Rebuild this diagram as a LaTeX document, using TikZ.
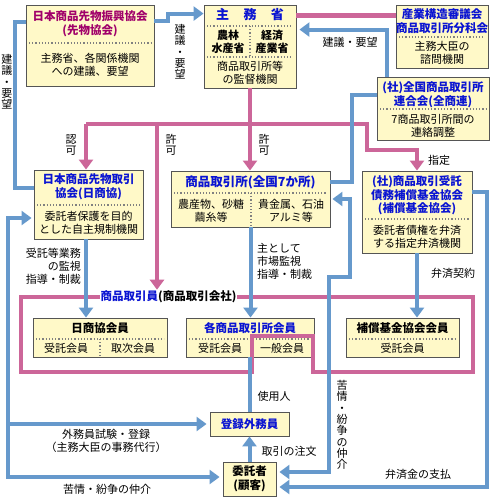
\documentclass[tikz,border=0pt]{standalone}
\usepackage{fontspec}
\setmainfont{Noto Sans CJK JP}
\usetikzlibrary{arrows.meta}
\definecolor{boxfill}{HTML}{FFF9C8}
\definecolor{boxline}{HTML}{555555}
\definecolor{sepgray}{HTML}{808080}
\definecolor{ttlblue}{HTML}{0A14D2}
\definecolor{shinkomag}{HTML}{A0006A}
\definecolor{magline}{HTML}{CC6699}
\definecolor{blueline}{HTML}{6699CC}

\begin{document}
\begin{tikzpicture}[x=1pt,y=-1pt,
  box/.style={draw=boxline,fill=boxfill,line width=.9pt,inner sep=0pt},
  ttl/.style={font=\fontsize{11.5}{13.5}\selectfont\bfseries,text=ttlblue,align=center,inner sep=0pt},
  txt/.style={font=\fontsize{11}{13}\selectfont,align=center,inner sep=0pt},
  lbl/.style={font=\fontsize{11}{13}\selectfont,align=center,inner sep=0pt},
  vlbl/.style={font=\fontsize{11}{11.3}\selectfont,align=center,inner sep=0pt},
  sep/.style={draw=sepgray,line width=1.2pt,dotted},
  mflow/.style={draw=magline,line width=4.5pt},
  bflow/.style={draw=blueline,line width=4pt},
  pointed/.style={-{Triangle[width=14pt,length=10pt]}},
  pointedboth/.style={{Triangle[width=14pt,length=10pt]}-{Triangle[width=14pt,length=10pt]}}]
\useasboundingbox[fill=white] (0,0) rectangle (500,500);

% boxes
\node[box,minimum width=128pt,minimum height=81pt] (shinko) at (90,45.5) {};
\node[ttl,text=shinkomag] (shinkoT) at (90,24) {日本商品先物振興協会\\(先物協会)};
\draw[sep] (29,43) -- (151,43);
\node[txt] (shinkoB) at (90,64.5) {主務省、各関係機関\\への建議、要望};

\node[box,minimum width=92pt,minimum height=83pt] (shumu) at (250,46.5) {};
\node[ttl,font=\fontsize{13}{15}\selectfont\bfseries] (shumuT) at (250,15) {主\hspace{1.1em}務\hspace{1.1em}省};
\draw[sep] (207,26) -- (293,26);
\draw[sep] (250,26) -- (250,57);
\draw[sep] (207,57) -- (293,57);
\node[txt,font=\fontsize{11}{13}\selectfont\bfseries] (shumuL) at (228,42) {農林\\水産省};
\node[txt,font=\fontsize{11}{13}\selectfont\bfseries] (shumuR) at (272,42) {経済\\産業省};
\node[txt] (shumuB) at (250,73) {商品取引所等\\の監督機関};

\node[box,minimum width=92pt,minimum height=63pt] (shingi) at (442,36.5) {};
\node[ttl] (shingiT) at (442,21) {産業構造審議会\\商品取引所分科会};
\draw[sep] (399,37) -- (485,37);
\node[txt] (shingiB) at (442,53) {主務大臣の\\諮問機関};

\node[box,minimum width=112pt,minimum height=63pt] (zenshoren) at (433,108.5) {};
\node[ttl] (zenshorenT) at (433,94.5) {(社)全国商品取引所\\連合会(全商連)};
\draw[sep] (380,109) -- (486,109);
\node[txt] (zenshorenB) at (433,125.5) {7商品取引所間の\\連絡調整};

\node[box,minimum width=109pt,minimum height=69pt] (nisshokyo) at (88.5,204.5) {};
\node[ttl] (nisshokyoT) at (88.5,187) {日本商品先物取引\\協会(日商協)};
\draw[sep] (37,205) -- (140,205);
\node[txt] (nisshokyoB) at (88.5,222.5) {委託者保護を目的\\とした自主規制機関};

\node[box,minimum width=159pt,minimum height=56pt] (torihikijo) at (250.5,199) {};
\node[ttl,font=\fontsize{12.5}{14}\selectfont\bfseries] (torihikijoT) at (250.5,182) {商品取引所(全国7か所)};
\draw[sep] (174,193) -- (327,193);
\draw[sep] (251,193) -- (251,227);
\node[txt] (torihikijoL) at (211,210.5) {農産物、砂糖\\繭糸等};
\node[txt] (torihikijoR) at (291,210.5) {貴金属、石油\\アルミ等};

\node[box,minimum width=110pt,minimum height=82pt] (hosho) at (417,212) {};
\node[ttl] (hoshoT) at (417,195.5) {(社)商品取引受託\\債務補償基金協会\\(補償基金協会)};
\draw[sep] (365,219) -- (469,219);
\node[txt] (hoshoB) at (417,236.5) {委託者債権を弁済\\する指定弁済機関};

\node[box,minimum width=134pt,minimum height=39pt] (nkkaiin) at (100,337.5) {};
\node[ttl,text=black] (nkkaiinT) at (100,328.5) {日商協会員};
\draw[sep] (36,339) -- (164,339);
\draw[sep] (100,339) -- (100,357);
\node[txt] (nkkaiinL) at (66,348.5) {受託会員};
\node[txt] (nkkaiinR) at (133,348.5) {取次会員};

\node[box,minimum width=128pt,minimum height=39pt] (kakukaiin) at (250,337.5) {};
\node[ttl] (kakukaiinT) at (250,328.5) {各商品取引所会員};
\draw[sep] (189,339) -- (311,339);
\node[txt] (kakukaiinL) at (220,348.5) {受託会員};
\node[txt] (kakukaiinR) at (282,348.5) {一般会員};

\node[box,minimum width=113pt,minimum height=39pt] (hkkaiin) at (402.5,337.5) {};
\node[ttl,text=black] (hkkaiinT) at (402.5,328.5) {補償基金協会会員};
\draw[sep] (349,339) -- (456,339);
\node[txt] (hkkaiinB) at (402.5,348.5) {受託会員};

\node[box,ttl,minimum width=79pt,minimum height=24pt] (gaimuin) at (249.5,424) {登録外務員};
\node[box,ttl,text=black,minimum width=53pt,minimum height=34pt] (itakusha) at (249.5,479) {委託者\\(顧客)};

% commodity firms
\draw[mflow] (21,297) -- (473,297) -- (473,372) -- (313,372) -- (313,336)
  -- (252,336) -- (252,372) -- (21,372) -- cycle;
\node[font=\fontsize{11.5}{13.5}\selectfont\bfseries,fill=white,inner sep=1pt] (kaisha) at (168.5,297)
  {\textcolor{ttlblue}{商品取引員}(商品取引会社)};

% supervision
\coordinate (busL) at (86,124);
\coordinate (kyoka) at (157,124);
\draw[mflow] ([yshift=-11pt]shumu.north east) -- ([yshift=-11pt]shingi.north west);
\draw[mflow,pointed] (shumu.south) -- (shumu.south |- torihikijo.north);
\draw[mflow,pointed] (busL) -- ++(281,0) -- ++(0,26) -| (hosho.north);
\draw[mflow,pointed] (busL) -- (busL |- nisshokyo.north);
\draw[mflow,pointed] (kyoka) -- (kyoka |- kaisha.north);

% proposals and guidance
\draw[bflow,pointed] ([yshift=-16pt]shinko.north east) -- ++(14,0) |- ([yshift=-9pt]shumu.north west);
\draw[bflow] ([yshift=17pt]nisshokyo.west) -- ++(-19,0) |- ([yshift=-17pt]shinko.north west);
\draw[bflow,pointed] ([xshift=10pt]zenshoren.north west) |- ([shift={(3pt,-25pt)}]shumu.north east);
\draw[bflow] ([yshift=13pt]zenshoren.west) -- ++(-25,0) |- ([yshift=17pt]torihikijo.east);
\draw[bflow,pointedboth] ([xshift=2pt]torihikijo.east) -- ++(18,0) |- (329,277) |- ([shift={(3pt,7pt)}]itakusha.east);
\draw[bflow,pointed] ([yshift=20pt]hosho.east) -- ++(15,0) |- ([shift={(3pt,-8pt)}]itakusha.east);
\draw[bflow,pointed] (torihikijo.south) -- (torihikijo.south |- kakukaiin.north);
\draw[bflow,pointed] ([xshift=-2.5pt]nisshokyo.south) -- ([xshift=-2.5pt]nisshokyo.south |- nkkaiin.north);
\draw[bflow,pointed] (hosho.south) -- (hosho.south |- hkkaiin.north);
\draw[bflow] (kakukaiin.south) -- (kakukaiin.south |- gaimuin.north);
\draw[bflow,pointed] (itakusha.north) -- (gaimuin.south);
\coordinate (kujoL) at (8,424);
\draw[bflow,pointedboth] ([shift={(-2pt,-13.5pt)}]nisshokyo.west) -- ++(-24,0) |- ([shift={(-3pt,2pt)}]itakusha.west);
\draw[bflow,pointed] (kujoL) -- ([xshift=-3pt]gaimuin.west);

% labels
\node[vlbl] (l1) at (7,82) {建\\議\\・\\要\\望};
\node[vlbl] (l2) at (180,52) {建\\議\\・\\要\\望};
\node[lbl] (l3) at (350,42) {建議・要望};
\node[vlbl] (l4) at (71,145) {認\\可};
\node[vlbl] (l5) at (171,145) {許\\可};
\node[vlbl] (l6) at (264,145) {許\\可};
\node[lbl] (l7) at (439,160) {指定};
\node[lbl,align=right,anchor=east] (l8) at (81,266) {受託等業務\\の監視\\指導・制裁};
\node[lbl,align=left,anchor=west] (l9) at (257,261) {主として\\市場監視\\指導・制裁};
\node[lbl] (l10) at (453,273) {弁済契約};
\node[lbl] (l11) at (274,396) {使用人};
\node[lbl] (l12) at (289,451) {取引の注文};
\node[vlbl] (l13) at (342,425) {苦\\情\\・\\紛\\争\\の\\仲\\介};
\node[lbl] (l14) at (418,474) {弁済金の支払};
\node[lbl] (l15) at (106,441) {外務員試験・登録\\（主務大臣の事務代行）};
\node[lbl] (l16) at (107,489) {苦情・紛争の仲介};
\end{tikzpicture}
\end{document}
